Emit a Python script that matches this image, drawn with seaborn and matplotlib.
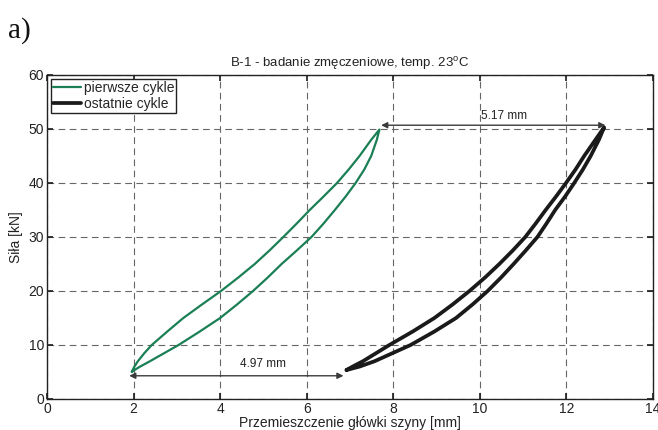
import matplotlib
matplotlib.use("Agg")
import matplotlib.pyplot as plt
import seaborn as sns
import pandas as pd

# --- data ---
green_x = [1.96, 2.02, 2.10, 2.25, 2.42, 2.78, 3.15, 3.58, 4.02, 4.42, 4.80, 5.14, 5.46,
           5.77, 6.07, 6.39, 6.70, 6.97, 7.22, 7.49, 7.68,
           7.62, 7.49, 7.33, 7.13, 6.90, 6.65, 6.39, 6.11, 5.77, 5.42, 5.10, 4.76,
           4.39, 4.00, 3.53, 3.04, 2.71, 2.38, 2.15, 1.96]
green_y = [5.06, 6.0, 7.0, 8.5, 10.0, 12.5, 15.0, 17.5, 20.0, 22.5, 25.0, 27.5, 30.0,
           32.5, 35.0, 37.5, 40.0, 42.5, 45.0, 48.0, 49.9,
           48.0, 45.0, 42.5, 40.0, 37.5, 35.0, 32.5, 30.0, 27.5, 25.0, 22.5, 20.0,
           17.5, 15.0, 12.5, 10.0, 8.5, 7.0, 6.0, 5.06]
black_x = [6.92, 7.06, 7.30, 7.91, 8.45, 8.95, 9.37, 9.76, 10.12, 10.45, 10.76, 11.05,
           11.29, 11.52, 11.76, 11.99, 12.21, 12.41, 12.67, 12.87,
           12.75, 12.56, 12.38, 12.18, 11.97, 11.74, 11.54, 11.33, 11.06, 10.78, 10.49,
           10.18, 9.83, 9.45, 8.95, 8.40, 7.57, 7.22, 6.92]
black_y = [5.37, 6.0, 7.0, 10.0, 12.5, 15.0, 17.5, 20.0, 22.5, 25.0, 27.5, 30.0,
           32.5, 35.0, 37.5, 40.0, 42.5, 45.0, 48.0, 50.3,
           48.0, 45.0, 42.5, 40.0, 37.5, 35.0, 32.5, 30.0, 27.5, 25.0, 22.5,
           20.0, 17.5, 15.0, 12.5, 10.0, 7.0, 6.0, 5.37]
series_names = ["pierwsze cykle", "ostatnie cykle"]
arrow_low = (1.90, 6.85, 4.3)     # x start, x end, y
arrow_high = (7.72, 12.90, 50.7)
label_low = "4.97 mm"
label_high = "5.17 mm"
x_ticks = [0, 2, 4, 6, 8, 10, 12, 14]
y_ticks = [0, 10, 20, 30, 40, 50, 60]
title = "B-1 - badanie zmęczeniowe, temp. 23$^{\\mathrm{o}}$C"
xlabel = "Przemieszczenie główki szyny [mm]"
ylabel = "Siła [kN]"

sns.set_theme(style="ticks")
plt.rcParams["font.family"] = ["Liberation Sans", "DejaVu Sans"]
plt.rcParams["mathtext.fontset"] = "custom"
plt.rcParams["mathtext.rm"] = "Liberation Sans"

fig = plt.figure(figsize=(6.58, 4.30), dpi=100)
ax = fig.add_axes([0.0714, 0.0721, 0.921, 0.7535])

df_g = pd.DataFrame({"x": green_x, "y": green_y})
df_b = pd.DataFrame({"x": black_x, "y": black_y})
sns.lineplot(data=df_g, x="x", y="y", sort=False, estimator=None, ax=ax,
             color="#1b7f55", linewidth=1.6, label=series_names[0], zorder=3,
             solid_joinstyle="round")
sns.lineplot(data=df_b, x="x", y="y", sort=False, estimator=None, ax=ax,
             color="#1a1a1a", linewidth=2.7, label=series_names[1], zorder=3,
             solid_joinstyle="round")

arrow_kw = dict(arrowstyle="<|-|>", color="#3a3a3a", lw=1.0,
                mutation_scale=9, shrinkA=0, shrinkB=0)
ax.annotate("", xy=(arrow_low[1], arrow_low[2]), xytext=(arrow_low[0], arrow_low[2]),
            arrowprops=arrow_kw, zorder=4)
ax.annotate("", xy=(arrow_high[1], arrow_high[2]), xytext=(arrow_high[0], arrow_high[2]),
            arrowprops=arrow_kw, zorder=4)
ax.text(4.45, 5.3, label_low, fontsize=8.5, color="#222222", ha="left", va="bottom")
ax.text(10.03, 51.3, label_high, fontsize=8.5, color="#222222", ha="left", va="bottom")

ax.set_xlim(0, 14)
ax.set_ylim(0, 60)
ax.set_xticks(x_ticks)
ax.set_yticks(y_ticks)
ax.tick_params(direction="in", length=4, labelsize=10, colors="#222222",
               top=True, right=True, pad=2)
ax.grid(True, color="#666666", linestyle=(0, (6, 4)), linewidth=0.8)
for s in ax.spines.values():
    s.set_visible(True)
    s.set_color("#222222")
    s.set_linewidth(1.0)
ax.set_title(title, fontsize=9.5, color="#222222", pad=6)
ax.set_xlabel(xlabel, fontsize=10, color="#222222", labelpad=0)
ax.set_ylabel(ylabel, fontsize=10, color="#222222", labelpad=4)

leg = ax.legend(loc="upper left", fontsize=10, frameon=True, fancybox=False,
                framealpha=1, edgecolor="#222222", borderpad=0.15,
                handlelength=2.0, handletextpad=0.2, labelspacing=0.1,
                borderaxespad=0.3)
leg.get_frame().set_linewidth(1.0)

fig.text(0.012, 0.93, "a)", fontsize=21, family=["Liberation Serif", "DejaVu Serif"],
         ha="left", va="center", color="#111111")

fig.savefig("out.png", dpi=100)
